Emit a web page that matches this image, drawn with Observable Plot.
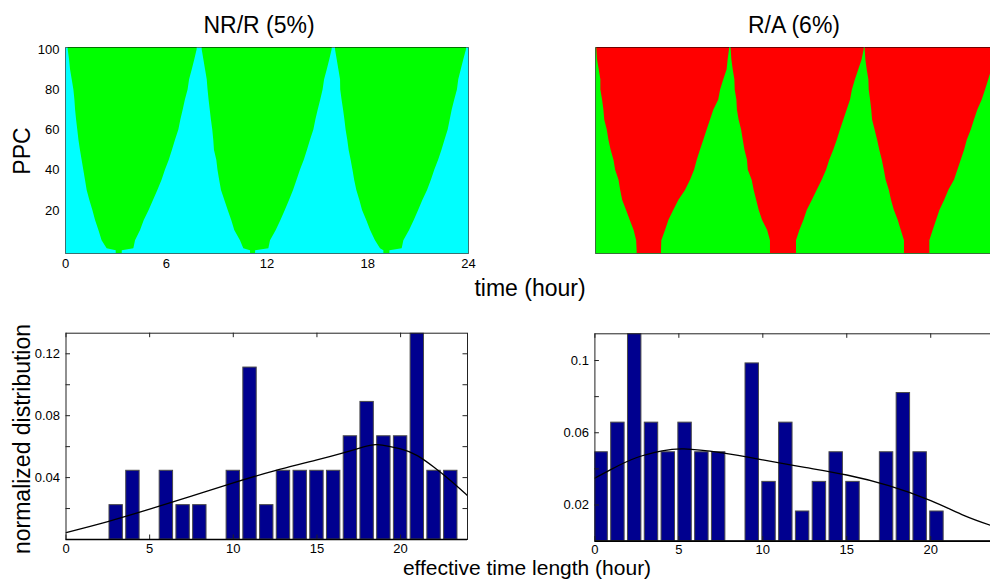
<!DOCTYPE html>
<html><head><meta charset="utf-8">
<script src="https://cdn.jsdelivr.net/npm/d3@7"></script>
<script src="https://cdn.jsdelivr.net/npm/@observablehq/plot@0.6"></script>
<style>
html,body{margin:0;padding:0;background:#fff;}
#wrap{position:relative;width:990px;height:579px;overflow:hidden;font-family:'Liberation Sans',Arial,sans-serif;color:#000;}
.p{position:absolute;}
.p svg{max-width:none !important;}
.t{position:absolute;white-space:nowrap;line-height:1;transform:translate(-50%,-50%);}
.r{transform:translate(-50%,-50%) rotate(-90deg);}
</style></head><body>
<div id="wrap">
  <div class="p" id="tl" style="left:0;top:0;width:480px"></div>
  <div class="p" id="tr" style="left:560px;top:0;width:450px"></div>
  <div class="p" id="bl" style="left:0;top:300px;width:480px"></div>
  <div class="p" id="br" style="left:540px;top:300px;width:470px"></div>
  <div class="t" style="left:259px;top:25px;font-size:23px">NR/R (5%)</div>
  <div class="t" style="left:794px;top:25px;font-size:23px">R/A (6%)</div>
  <div class="t r" style="left:22px;top:151px;font-size:23px">PPC</div>
  <div class="t" style="left:530px;top:288px;font-size:23px">time (hour)</div>
  <div class="t r" style="left:22px;top:439px;font-size:23px">normalized distribution</div>
  <div class="t" style="left:527px;top:567px;font-size:21px">effective time length (hour)</div>
</div>
<script>
// ---------- top-left: NR/R (5%) : green regions over cyan, edges (hours) at PPC levels ----------
const ppcNR = [-2, 0, 1, 5, 10, 15, 20, 25, 30, 35, 40, 45, 50, 55, 60, 65, 70, 75, 80, 85, 90, 95, 100, 102];
const nrLeft1  = [3.02, 3.02, 2.48, 2.18, 1.99, 1.79, 1.63, 1.45, 1.29, 1.19, 1.09, 0.99, 0.89, 0.80, 0.73, 0.66, 0.60, 0.56, 0.50, 0.40, 0.30, 0.24, 0.16, 0.16];
const nrRight1 = [3.38, 3.38, 4.07, 4.17, 4.47, 4.69, 4.98, 5.24, 5.50, 5.75, 5.95, 6.18, 6.37, 6.55, 6.75, 6.87, 7.01, 7.14, 7.30, 7.39, 7.55, 7.70, 7.84, 7.84];
const nrLeft2  = [11.02, 11.02, 10.62, 10.42, 10.08, 9.90, 9.69, 9.49, 9.29, 9.18, 9.08, 9.01, 8.87, 8.83, 8.77, 8.69, 8.62, 8.55, 8.49, 8.44, 8.34, 8.24, 8.14, 8.14];
const nrRight2 = [11.32, 11.32, 12.11, 12.21, 12.55, 12.83, 13.09, 13.34, 13.58, 13.79, 13.99, 14.22, 14.41, 14.59, 14.79, 14.91, 15.05, 15.20, 15.34, 15.43, 15.59, 15.74, 15.88, 15.88];
const nrLeft3  = [18.96, 18.96, 18.76, 18.46, 18.17, 17.94, 17.69, 17.53, 17.35, 17.22, 17.12, 17.01, 16.89, 16.81, 16.71, 16.64, 16.56, 16.47, 16.39, 16.38, 16.28, 16.18, 16.08, 16.08];
const nrRight3 = [19.32, 19.32, 20.05, 20.15, 20.49, 20.77, 21.03, 21.28, 21.56, 21.79, 21.99, 22.22, 22.42, 22.60, 22.79, 22.91, 23.03, 23.18, 23.34, 23.42, 23.57, 23.72, 23.88, 23.88];
const nrYTicks = [20, 40, 60, 80, 100];
const nrXTicks = [0, 6, 12, 18, 24];

// ---------- top-right: R/A (6%) : red regions over green ----------
const ppcRA = [-2, 0, 5, 10, 15, 20, 25, 30, 35, 40, 45, 50, 55, 60, 65, 70, 75, 80, 85, 90, 95, 100, 102];
const raLeft1  = [2.48, 2.48, 2.45, 2.30, 2.07, 1.85, 1.62, 1.50, 1.40, 1.20, 1.10, 0.93, 0.80, 0.70, 0.55, 0.50, 0.42, 0.32, 0.32, 0.22, 0.12, 0.08, 0.08];
const raRight1 = [3.93, 3.93, 3.95, 4.17, 4.37, 4.66, 4.96, 5.36, 5.66, 5.90, 6.06, 6.25, 6.45, 6.65, 6.85, 7.05, 7.34, 7.45, 7.64, 7.84, 7.90, 7.98, 7.98];
const raLeft2  = [10.42, 10.42, 10.42, 10.25, 9.95, 9.75, 9.60, 9.45, 9.33, 9.10, 9.05, 8.90, 8.80, 8.70, 8.55, 8.45, 8.42, 8.32, 8.30, 8.20, 8.12, 8.08, 8.08];
const raRight2 = [11.97, 11.97, 11.97, 12.17, 12.41, 12.61, 12.91, 13.20, 13.50, 13.76, 13.95, 14.19, 14.40, 14.59, 14.79, 14.99, 15.19, 15.30, 15.48, 15.68, 15.88, 16.00, 16.00];
const raLeft3  = [18.40, 18.40, 18.40, 18.21, 18.03, 17.80, 17.63, 17.50, 17.31, 17.20, 17.08, 16.93, 16.80, 16.65, 16.50, 16.45, 16.38, 16.30, 16.28, 16.18, 16.10, 16.06, 16.06];
const raRight3 = [19.91, 19.91, 19.91, 20.11, 20.31, 20.51, 20.79, 21.04, 21.38, 21.58, 21.78, 21.98, 22.14, 22.38, 22.57, 22.77, 23.03, 23.23, 23.42, 23.60, 23.80, 24.00, 24.00];

// ---------- bottom-left histogram (NR/R) ----------
const nrBinX = [0, 1, 2, 3, 4, 5, 6, 7, 8, 9, 10, 11, 12, 13, 14, 15, 16, 17, 18, 19, 20, 21, 22, 23];
const nrBinV = [0, 0, 0, 0.0222, 0.0444, 0, 0.0444, 0.0222, 0.0222, 0, 0.0444, 0.1111, 0.0222, 0.0444, 0.0444, 0.0444, 0.0444, 0.0667, 0.0889, 0.0667, 0.0667, 0.1333, 0.0444, 0.0444];
const nrFitX = [0, 2.5, 5, 7.5, 10, 12.5, 15, 17.5, 18.6, 20, 21, 22, 23, 24];
const nrFitY = [0.0045, 0.0116, 0.0196, 0.0280, 0.0366, 0.0445, 0.0514, 0.0589, 0.0613, 0.0585, 0.0542, 0.0467, 0.0380, 0.0284];
const nrHistYTicks = [0.04, 0.08, 0.12];
const nrHistYMarks = [0.02, 0.04, 0.06, 0.08, 0.10, 0.12];

// ---------- bottom-right histogram (R/A) ----------
const raBinX = [0.37, 1.37, 2.37, 3.37, 4.37, 5.37, 6.37, 7.37, 8.37, 9.37, 10.37, 11.37, 12.37, 13.37, 14.37, 15.37, 16.37, 17.37, 18.37, 19.37, 20.37];
const raBinV = [0.0492, 0.0656, 0.1148, 0.0656, 0.0492, 0.0656, 0.0492, 0.0492, 0, 0.0984, 0.0328, 0.0656, 0.0164, 0.0328, 0.0492, 0.0328, 0, 0.0492, 0.0820, 0.0492, 0.0164];
const raFitX = [0, 1, 2.5, 4, 5.3, 7.5, 10, 12.5, 15, 17.5, 20, 22, 23.6];
const raFitY = [0.0349, 0.0399, 0.0463, 0.0500, 0.0511, 0.0490, 0.0450, 0.0408, 0.0366, 0.0307, 0.0224, 0.0141, 0.0086];
const raHistYTicks = [0.02, 0.06, 0.1];
const raHistYMarks = [0.02, 0.04, 0.06, 0.08, 0.10];

const histXTicks = [0, 5, 10, 15, 20];

const CYAN = "#00FFFF", GREEN = "#00FF00", RED = "#FF0000", NAVY = "#00008F";
const FONT = "'Liberation Sans', Arial, sans-serif";
const style = {fontFamily: FONT, fontSize: "13px", color: "#000", background: "transparent", overflow: "visible", maxWidth: "none"};
const fmt = d => String(d);

const vRows = (levels, l, r) => levels.map((p, i) => ({ppc: p, l: l[i], r: r[i]}));
const zip = (xs, ys) => xs.map((x, i) => ({x, y: ys[i]}));

// top-left
const tl = Plot.plot({
  width: 480, height: 290, marginLeft: 65, marginRight: 12, marginTop: 47, marginBottom: 37,
  style,
  x: {domain: [0, 24], label: null},
  y: {domain: [-1.4, 101.1], label: null},
  marks: [
    Plot.frame({fill: CYAN}),
    ...[[nrLeft1, nrRight1], [nrLeft2, nrRight2], [nrLeft3, nrRight3]].map(([l, r]) =>
      Plot.areaX(vRows(ppcNR, l, r), {y: "ppc", x1: "l", x2: "r", fill: GREEN, clip: true})),
    Plot.frame({stroke: "#000", strokeOpacity: 0.55}),
    Plot.axisY({ticks: nrYTicks, tickSize: 0, tickPadding: 6, label: null, fontSize: 13, tickFormat: fmt}),
    Plot.axisX({ticks: nrXTicks, tickSize: 0, tickPadding: 5, label: null, fontSize: 13, tickFormat: fmt})
  ]
});
document.getElementById("tl").append(tl);

// top-right
const tr = Plot.plot({
  width: 450, height: 290, marginLeft: 35, marginRight: 12, marginTop: 47, marginBottom: 37,
  style,
  x: {domain: [0, 24], axis: null},
  y: {domain: [-1.4, 101.1], axis: null},
  marks: [
    Plot.frame({fill: GREEN}),
    ...[[raLeft1, raRight1], [raLeft2, raRight2], [raLeft3, raRight3]].map(([l, r]) =>
      Plot.areaX(vRows(ppcRA, l, r), {y: "ppc", x1: "l", x2: "r", fill: RED, clip: true})),
    Plot.frame({stroke: "#000", strokeOpacity: 0.55})
  ]
});
document.getElementById("tr").append(tr);

function hist(el, opts) {
  const {width, height, mL, mR, mT, mB, ymax, binX, binV, fitX, fitY, yLabels, yMarks} = opts;
  const fw = width - mL - mR, fh = height - mT - mB, tk = 4.5;
  const bars = binX.map((x, i) => ({x, v: binV[i]}));
  const p = Plot.plot({
    width, height, marginLeft: mL, marginRight: mR, marginTop: mT, marginBottom: mB,
    style,
    x: {domain: [0, 24], label: null},
    y: {domain: [0, ymax], label: null},
    marks: [
      Plot.rectY(bars, {x1: d => d.x - 0.4, x2: d => d.x + 0.4, y1: 0, y2: "v", fill: NAVY, stroke: "#4a4a4a", strokeWidth: 1, clip: true}),
      Plot.line(zip(fitX, fitY), {x: "x", y: "y", stroke: "#000", strokeWidth: 1.3, curve: "natural", clip: true}),
      Plot.frame({stroke: "#222"}),
      Plot.ruleY([0], {stroke: "#000", strokeWidth: 1.6}),
      Plot.tickY(yMarks, {y: d => d, insetRight: fw - tk, stroke: "#222"}),
      Plot.tickY(yMarks, {y: d => d, insetLeft: fw - tk, stroke: "#222"}),
      Plot.tickX(histXTicks, {x: d => d, insetTop: fh - tk, stroke: "#222"}),
      Plot.tickX(histXTicks, {x: d => d, insetBottom: fh - tk, stroke: "#222"}),
      Plot.axisY({ticks: yLabels, tickSize: 0, tickPadding: 6, label: null, fontSize: 13, tickFormat: fmt}),
      Plot.axisX({ticks: histXTicks, tickSize: 0, tickPadding: 4, label: null, fontSize: 13, tickFormat: fmt})
    ]
  });
  document.getElementById(el).append(p);
}

hist("bl", {width: 480, height: 279, mL: 65.5, mR: 13, mT: 32.7, mB: 40, ymax: 0.1333,
  binX: nrBinX, binV: nrBinV, fitX: nrFitX, fitY: nrFitY, yLabels: nrHistYTicks, yMarks: nrHistYMarks});
hist("br", {width: 470, height: 279, mL: 54.4, mR: 12.6, mT: 33.3, mB: 38.4, ymax: 0.1148,
  binX: raBinX, binV: raBinV, fitX: raFitX, fitY: raFitY, yLabels: raHistYTicks, yMarks: raHistYMarks});
</script>
</body></html>
